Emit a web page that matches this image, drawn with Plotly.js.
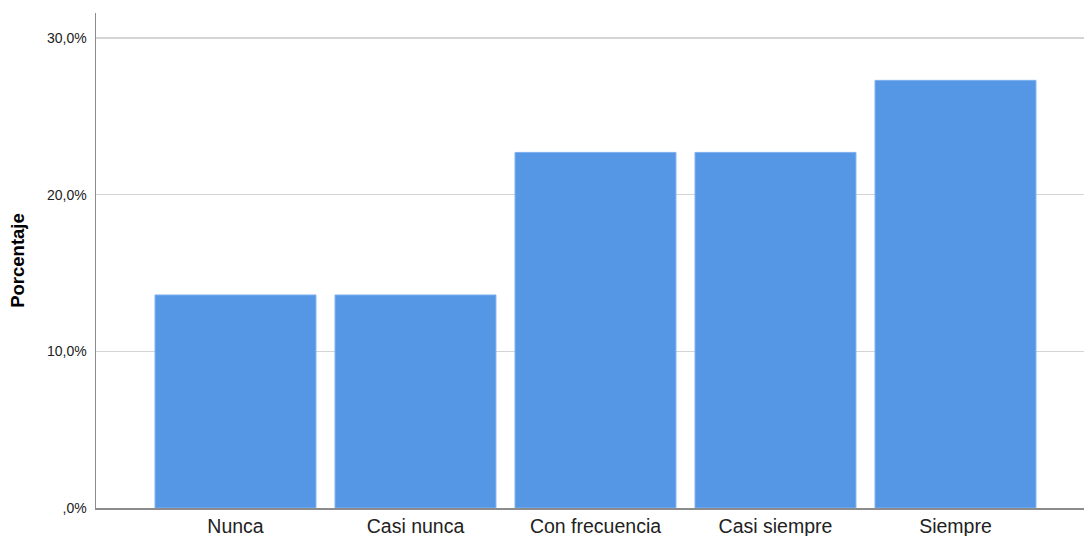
<!DOCTYPE html>
<html>
<head>
<meta charset="utf-8">
<script src="https://cdn.plot.ly/plotly-3.0.1.min.js"></script>
<style>html,body{margin:0;padding:0;background:#fff;}#chart{width:1084px;height:536px;}</style>
</head>
<body>
<div id="chart"></div>
<script>
const categories = ["Nunca", "Casi nunca", "Con frecuencia", "Casi siempre", "Siempre"];
const percentages = [13.6, 13.6, 22.7, 22.7, 27.3];
const tickValues = [0, 10, 20, 30];
const tickLabels = [",0%", "10,0%", "20,0%", "30,0%"];

const trace = {
  type: "bar",
  x: categories.map((c, i) => i),
  y: percentages,
  width: 0.894,
  marker: {color: "#5596e5", line: {color: "#7fb0ee", width: 1}},
  hoverinfo: "none"
};

const layout = {
  width: 1084, height: 536,
  margin: {l: 96, r: 0, t: 13, b: 28},
  paper_bgcolor: "#fff", plot_bgcolor: "#fff",
  showlegend: false,
  font: {family: "Liberation Sans, Arial, sans-serif", color: "#222"},
  xaxis: {
    range: [-0.775, 4.714],
    tickvals: categories.map((c, i) => i),
    ticktext: categories,
    tickfont: {size: 19.5, color: "#222"},
    showgrid: false, zeroline: false,
    showline: true, linecolor: "#8c8c8c", linewidth: 1.5,
    ticks: "", ticklen: 0
  },
  yaxis: {
    range: [0, 31.6],
    tickvals: tickValues,
    ticktext: tickLabels,
    tickfont: {size: 14, color: "#222"},
    ticklabelstandoff: 5,
    showgrid: true, gridcolor: "#d4d4d4", gridwidth: 1.5,
    zeroline: false,
    showline: true, linecolor: "#8c8c8c", linewidth: 1.5,
    ticks: "", automargin: false,
    title: {text: "<b>Porcentaje</b>", font: {size: 18.5, color: "#000"}, standoff: 17}
  }
};

Plotly.newPlot("chart", [trace], layout, {displayModeBar: false, staticPlot: true});
</script>
</body>
</html>
